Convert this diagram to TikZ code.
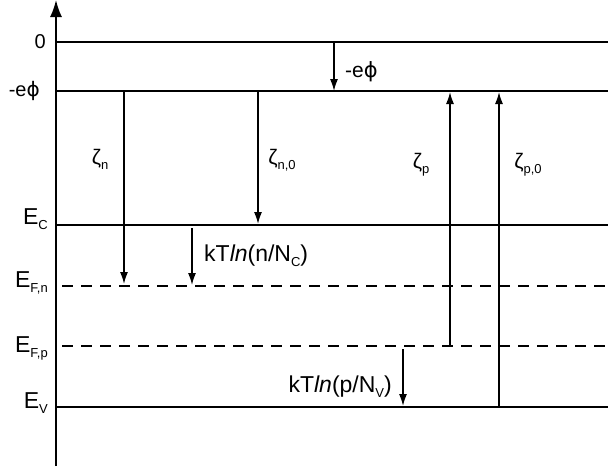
\documentclass[tikz,border=0pt]{standalone}
\usepackage{fontspec}
\setmainfont{Liberation Sans}
\newfontfamily\phifont{DejaVu Sans}
\usetikzlibrary{arrows.meta,positioning}
\newcommand{\lsub}[1]{\raisebox{-0.45ex}{\fontsize{13}{13}\selectfont #1}}
\newcommand{\ephi}{-e{\phifont ϕ}}

\begin{document}
\begin{tikzpicture}[x=1pt,y=-1pt,
      level/.style={line width=1.7pt},
      fermi/.style={line width=1.7pt,dash pattern=on 11pt off 8pt},
      gap/.style={line width=1.5pt,-{Latex[length=12pt,width=8pt]}},
      lvl/.style={anchor=base east,font=\fontsize{23}{24}\selectfont,inner sep=0pt},
      lab/.style={font=\fontsize{21}{22}\selectfont,inner sep=0pt},
      klab/.style={font=\fontsize{23}{24}\selectfont,inner sep=0pt}]
    \useasboundingbox (0,0) rectangle (608,472);
    % energy axis
    \coordinate (ax0) at (56,466);
    \coordinate (ax1) at (56,0);
    \draw[line width=1.7pt,-{Latex[length=17pt,width=12pt]}] (ax0) -- (ax1);
    % levels
    \coordinate (vacL) at (56,42);   \coordinate (vacR) at (608,42);
    \coordinate (phiL) at (56,91);   \coordinate (phiR) at (608,91);
    \coordinate (ecL) at (56,225);   \coordinate (ecR) at (608,225);
    \coordinate (fnL) at (62,286);   \coordinate (fnR) at (608,286);
    \coordinate (fpL) at (62,346);   \coordinate (fpR) at (608,346);
    \coordinate (evL) at (56,407);   \coordinate (evR) at (608,407);
    \draw[level] (vacL) -- (vacR);
    \draw[level] (phiL) -- (phiR);
    \draw[level] (ecL) -- (ecR);
    \draw[fermi] (fnL) -- (fnR);
    \draw[fermi] (fpL) -- (fpR);
    \draw[level] (evL) -- (evR);
    % level labels
    \node[lvl,font=\fontsize{20}{21}\selectfont] (lvac) at (46,48) {0};
    \node[lvl,font=\fontsize{20}{21}\selectfont] (lphi) at (40,96) {\ephi};
    \node[lvl] (lec) at (48,224) {E\lsub{C}};
    \node[lvl] (lfn) at (48,287) {E\lsub{F,n}};
    \node[lvl] (lfp) at (48,352) {E\lsub{F,p}};
    \node[lvl] (lev) at (48,408) {E\lsub{V}};
    % gaps
    \coordinate (wf0) at (334,42);   \coordinate (wf1) at (334,91);
    \coordinate (zn0) at (124,91);   \coordinate (zn1) at (124,284);
    \coordinate (zno0) at (258,91);  \coordinate (zno1) at (258,224);
    \coordinate (kn0) at (192,228);  \coordinate (kn1) at (192,285);
    \coordinate (zp0) at (450,346);  \coordinate (zp1) at (450,92);
    \coordinate (zpo0) at (499,407); \coordinate (zpo1) at (499,92);
    \coordinate (kp0) at (403,349);  \coordinate (kp1) at (403,406);
    \draw[gap] (wf0) -- (wf1);
    \draw[gap] (zn0) -- (zn1);
    \draw[gap] (zno0) -- (zno1);
    \draw[gap] (kn0) -- (kn1);
    \draw[gap] (zp0) -- (zp1);
    \draw[gap] (zpo0) -- (zpo1);
    \draw[gap] (kp0) -- (kp1);
    % gap labels
    \node[klab,anchor=base west,font=\fontsize{21}{22}\selectfont] (lwf) at (345,77) {\ephi};
    \node[lab] (lzn) at (100,159) {ζ\lsub{n}};
    \node[lab] (lzno) at (282,160) {ζ\lsub{n,0}};
    \node[lab] (lzp) at (421,165) {ζ\lsub{p}};
    \node[lab] (lzpo) at (528,165) {ζ\lsub{p,0}};
    \node[klab,anchor=base west] (lkn) at (204,261) {kT\textit{ln}(n/N\lsub{C})};
    \node[klab,anchor=base east] (lkp) at (392,392) {kT\textit{ln}(p/N\lsub{V})};
\end{tikzpicture}
\end{document}
